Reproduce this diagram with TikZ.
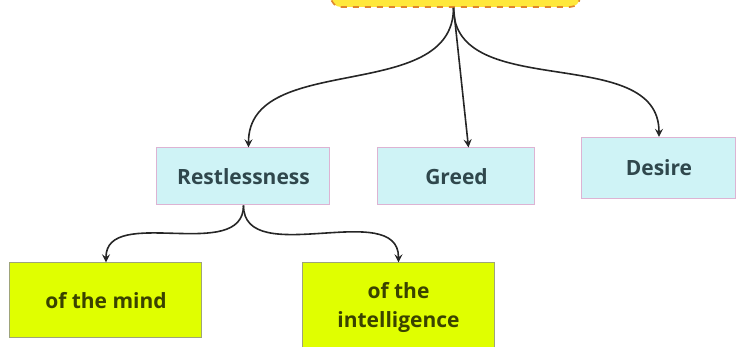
\documentclass[tikz,border=0pt]{standalone}
\usepackage{fontspec}
\setmainfont{Open Sans}
\usepackage{xcolor}
\usetikzlibrary{arrows,shapes,positioning,calc}

\definecolor{boxcyan}{HTML}{CFF3F6}
\definecolor{edgepink}{HTML}{DDB3D3}
\definecolor{textslate}{HTML}{2F474C}
\definecolor{boxlime}{HTML}{E0FF00}
\definecolor{edgeolive}{HTML}{9EA47A}
\definecolor{textolive}{HTML}{3A4300}
\definecolor{boxsun}{HTML}{FFE83C}
\definecolor{edgeorange}{HTML}{E0862C}

\begin{document}
\begin{tikzpicture}[x=0.5pt, y=-0.5pt, >=stealth, font=\bfseries\fontsize{10.5}{14.5}\selectfont,
    cause/.style={draw=edgepink, fill=boxcyan, text=textslate, line width=0.5pt, minimum height=28.5pt},
    kind/.style={draw=edgeolive, fill=boxlime, text=textolive, line width=0.5pt, align=center, minimum width=96pt},
    link/.style={->, line width=0.8pt, black!85}]
    \clip (0,0) rectangle (736,347);

    % Root (cut off at the top)
    \node[draw=edgeorange, dashed, fill=boxsun, rounded corners=5pt, line width=0.8pt,
          minimum width=124.5pt, minimum height=30pt] (root) at (455.5,-23) {};

    % Causes
    \node[cause, minimum width=86.5pt] (rest) at (243.5,176.5) {Restlessness};
    \node[cause, minimum width=78.5pt] (greed) at (456.5,176.5) {Greed};
    \node[cause, minimum width=77pt, minimum height=30.5pt] (desire) at (659,168) {Desire};

    % Kinds of restlessness
    \node[kind, minimum height=37.5pt] (mind) at (106,300.5) {of the mind};
    \node[kind, minimum height=44pt] (intel) at (398.5,307) {of the\\intelligence};

    % Connect nodes
    \draw[link] ([xshift=-1pt]root.south) to[out=-90, in=90] ([xshift=2.5pt]rest.north);
    \draw[link] ([xshift=-1pt]root.south) -- ([xshift=6pt]greed.north);
    \draw[link] ([xshift=-1pt]root.south) to[out=-90, in=90] (desire.north);

    \draw[link] (rest.south) to[out=-90, in=90] (mind.north);
    \draw[link] (rest.south) to[out=-90, in=90] (intel.north);
\end{tikzpicture}
\end{document}
